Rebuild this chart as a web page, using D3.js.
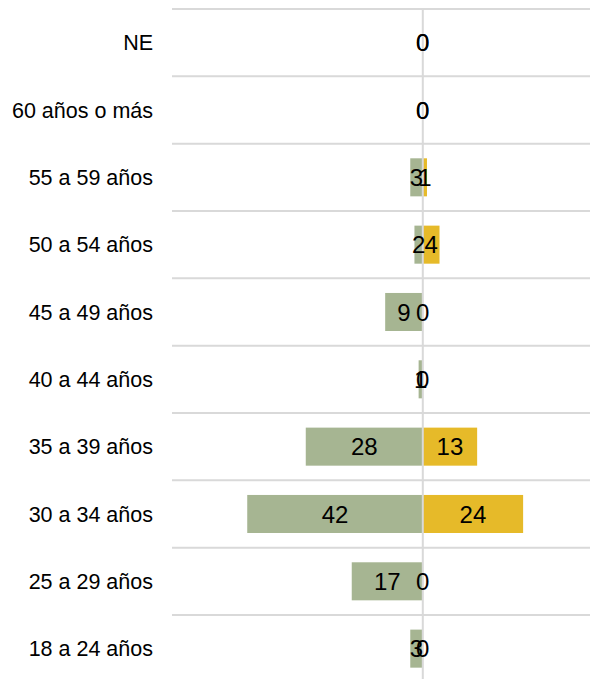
<!DOCTYPE html>
<html>
<head>
<meta charset="utf-8">
<script src="https://cdn.jsdelivr.net/npm/d3@7"></script>
<style>
  body { margin: 0; background: #fff; }
  text { font-family: "Liberation Sans", Arial, sans-serif; fill: #000; }
</style>
</head>
<body>
<div id="chart"></div>
<script>
const categories = ["NE", "60 años o más", "55 a 59 años", "50 a 54 años", "45 a 49 años",
  "40 a 44 años", "35 a 39 años", "30 a 34 años", "25 a 29 años", "18 a 24 años"];
const leftValues = [0, 0, 3, 2, 9, 1, 28, 42, 17, 3];
const rightValues = [0, 0, 1, 4, 0, 0, 13, 24, 0, 0];

function drawSvg() {
  const width = 590;
  const height = 679;

  let svg = d3.select("#chart")
    .append("svg")
    .attr("width", width)
    .attr("height", height);

  let xScale = d3.scaleLinear().domain([-60, 40]).range([172, 590]);
  let yScale = d3.scaleBand().domain(categories).range([9, 682.3]);
  let barH = yScale.bandwidth() * 0.565;
  let barY = (c) => yScale(c) + (yScale.bandwidth() - barH) / 2;

  // row separators
  svg.selectAll("line.grid")
    .data(categories)
    .enter()
    .append("line")
    .attr("class", "grid")
    .attr("x1", xScale(-60))
    .attr("x2", xScale(40))
    .attr("y1", (d) => yScale(d))
    .attr("y2", (d) => yScale(d))
    .attr("stroke", "#d9d9d9")
    .attr("stroke-width", 2);

  svg.selectAll("rect.left")
    .data(categories)
    .enter()
    .append("rect")
    .attr("class", "left")
    .attr("x", (d, i) => xScale(-leftValues[i]))
    .attr("y", (d) => barY(d))
    .attr("width", (d, i) => xScale(0) - xScale(-leftValues[i]))
    .attr("height", barH)
    .attr("fill", "#a6b592");

  svg.selectAll("rect.right")
    .data(categories)
    .enter()
    .append("rect")
    .attr("class", "right")
    .attr("x", xScale(0))
    .attr("y", (d) => barY(d))
    .attr("width", (d, i) => xScale(rightValues[i]) - xScale(0))
    .attr("height", barH)
    .attr("fill", "#e6ba29");

  // center line
  svg.append("line")
    .attr("x1", xScale(0))
    .attr("x2", xScale(0))
    .attr("y1", 9)
    .attr("y2", height)
    .attr("stroke", "#d9d9d9")
    .attr("stroke-width", 2);

  // value labels (overlaps near the center are as in the original)
  svg.selectAll("text.lv")
    .data(categories)
    .enter()
    .append("text")
    .attr("class", "lv")
    .attr("x", (d, i) => xScale(-leftValues[i] / 2))
    .attr("y", (d) => yScale(d) + yScale.bandwidth() / 2)
    .attr("dy", "0.36em")
    .attr("text-anchor", "middle")
    .style("font-size", "24px")
    .text((d, i) => leftValues[i]);

  svg.selectAll("text.rv")
    .data(categories)
    .enter()
    .append("text")
    .attr("class", "rv")
    .attr("x", (d, i) => xScale(rightValues[i] / 2))
    .attr("y", (d) => yScale(d) + yScale.bandwidth() / 2)
    .attr("dy", "0.36em")
    .attr("text-anchor", "middle")
    .style("font-size", "24px")
    .text((d, i) => rightValues[i]);

  // category labels
  svg.selectAll("text.cat")
    .data(categories)
    .enter()
    .append("text")
    .attr("class", "cat")
    .attr("x", 153)
    .attr("y", (d) => yScale(d) + yScale.bandwidth() / 2)
    .attr("dy", "0.36em")
    .attr("text-anchor", "end")
    .style("font-size", "21.5px")
    .text((d) => d);
}

drawSvg();
</script>
</body>
</html>
